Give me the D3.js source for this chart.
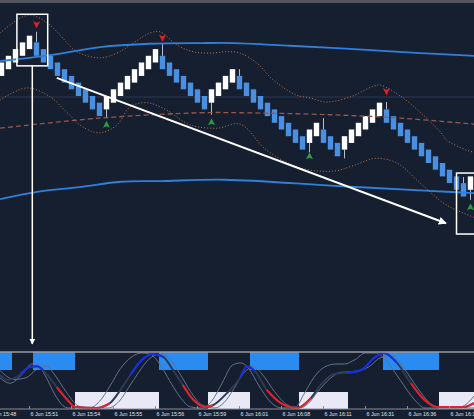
<!DOCTYPE html>
<html>
<head>
<meta charset="utf-8">
<script src="https://cdn.jsdelivr.net/npm/d3@7/dist/d3.min.js"></script>
<style>
  body { margin: 0; background: #161f30; }
  svg { display: block; }
</style>
</head>
<body>
<div id="chart"></div>
<script>
// renko bricks: bottom level of each brick (each brick spans 2 levels)
var brickLow = [23, 24, 25, 26, 27,
                26, 25, 24, 23, 22, 21, 20, 19, 18, 17,
                18, 19, 20, 21, 22, 23, 24, 25,
                24, 23, 22, 21, 20, 19, 18,
                19, 20, 21, 22,
                21, 20, 19, 18, 17, 16, 15, 14, 13, 12,
                13, 14,
                13, 12, 11,
                12, 13, 14, 15, 16, 17,
                16, 15, 14, 13, 12, 11, 10, 9, 8, 7, 6, 5,
                6];

// wicks: brick index and level the wick reaches
var wickBrick = [5, 15, 23, 30, 34, 44, 46, 49, 55, 66, 67];
var wickLevel = [29.6, 16.7, 27.9, 17.2, 24.0, 11.6, 16.7, 10.7, 19.1, 7.9, 4.5];

// signal arrows
var sellBrick = [5, 23, 55];
var sellLevel = [30.7, 28.7, 20.7];
var buyBrick = [15, 30, 44, 67];
var buyLevel = [15.7, 16.1, 11.0, 3.4];

// overlay lines [brick index, level]
var upperBlue = [[-0.2, 25.2], [6.9, 26.1], [14.1, 27.3], [21.2, 27.8], [28.4, 27.9], [33.2, 27.9],
                 [41.2, 27.5], [50.4, 27.0], [59.8, 26.4], [67.5, 26.0]];
var lowerBlue = [[-0.2, 4.6], [5.1, 5.7], [11.2, 6.4], [17.0, 7.2], [22.6, 7.3], [31.9, 7.5],
                 [47.5, 6.6], [61.8, 5.8], [67.5, 5.5]];
var midDashed = [[-0.2, 15.2], [14.1, 16.7], [28.4, 17.5], [34.1, 17.5], [47.0, 17.2], [57.0, 16.7], [67.5, 15.8]];
var upperBand = [[-0.2, 29.4], [1.2, 30.6], [2.6, 31.6], [4.1, 32.1], [5.5, 31.6], [6.9, 30.6], [8.1, 29.4],
                 [9.4, 27.9], [10.5, 26.8], [11.6, 26.2], [14.1, 25.7], [16.5, 26.4], [18.8, 27.9], [21.2, 29.4],
                 [22.6, 29.6], [25.1, 27.6], [27.4, 26.6], [29.8, 26.4], [32.2, 26.6], [34.1, 26.4], [36.5, 24.9],
                 [38.4, 22.8], [40.2, 21.3], [42.2, 20.1], [44.1, 19.7], [46.5, 19.1], [49.9, 19.9], [53.2, 21.5],
                 [54.2, 21.6], [57.1, 19.9], [59.9, 17.5], [62.8, 14.5], [63.6, 13.4], [66.5, 11.9], [67.5, 11.6]];
var lowerBand = [[-0.2, 19.4], [3.6, 21.2], [6.9, 19.9], [9.4, 17.5], [11.6, 15.4], [14.1, 14.5], [16.5, 15.7],
                 [18.4, 18.4], [20.8, 19.0], [23.6, 17.9], [26.9, 15.7], [30.8, 15.2], [34.1, 15.8], [37.9, 11.9],
                 [42.6, 9.3], [47.5, 8.8], [50.5, 9.7], [53.4, 10.7], [56.5, 10.0], [59.9, 6.9], [63.6, 3.7], [67.5, 1.9]];
var levelLine = 19.85;

// annotations
var box1 = [[2.2, 32.2], [6.6, 24.5]];
var box2 = [[65.0, 8.5], [68.2, -0.6]];
var trendArrow = [[7.9, 22.7], [63.5, 1.0]];

// oscillator panel
var oscMain = [[-0.2, 0.60], [0.9, 0.51], [2.6, 0.60], [4.1, 0.75], [5.1, 0.76], [5.9, 0.69], [7.9, 0.38],
               [9.4, 0.15], [10.5, 0.02], [13.6, 0.0], [15.5, 0.09], [17.0, 0.33], [18.4, 0.60], [19.8, 0.84],
               [21.6, 0.98], [23.1, 0.93], [24.5, 0.69], [25.9, 0.42], [27.4, 0.15], [29.1, 0.02], [30.2, 0.05],
               [32.2, 0.27], [34.1, 0.55], [35.1, 0.76], [36.2, 0.67], [37.9, 0.33], [39.9, 0.09], [42.2, 0.0],
               [44.2, 0.18], [45.6, 0.42], [47.5, 0.62], [49.4, 0.64], [51.4, 0.69], [53.2, 0.91], [54.6, 1.0],
               [56.5, 0.82], [58.5, 0.45], [60.4, 0.15], [62.2, 0.02], [66.1, 0.02], [67.5, 0.09]];
var oscFast = [[-0.2, 0.55], [1.2, 0.45], [3.0, 0.62], [4.3, 0.80], [5.0, 0.80], [6.2, 0.60], [7.6, 0.25],
               [8.8, 0.04], [9.6, 0.0], [12.5, 0.0], [14.0, 0.12], [15.5, 0.40], [17.0, 0.72], [18.5, 0.92],
               [20.0, 1.0], [21.2, 0.98], [22.6, 0.80], [24.0, 0.50], [25.5, 0.20], [27.0, 0.02], [28.5, 0.0],
               [30.0, 0.12], [31.5, 0.45], [33.0, 0.78], [34.2, 0.82], [35.3, 0.72], [36.8, 0.40], [38.5, 0.10],
               [40.0, 0.0], [42.0, 0.02], [43.2, 0.25], [44.6, 0.55], [46.2, 0.75], [47.8, 0.80], [49.0, 0.80],
               [50.5, 0.88], [52.0, 1.0], [53.5, 1.0], [55.0, 0.85], [57.0, 0.50], [59.0, 0.15], [60.5, 0.0],
               [65.0, 0.0], [66.5, 0.08], [67.5, 0.22]];
var oscSlow = [[-0.2, 0.68], [1.8, 0.52], [3.5, 0.55], [5.0, 0.70], [6.5, 0.76], [7.5, 0.62], [9.2, 0.30],
               [10.8, 0.05], [12.0, 0.0], [15.2, 0.0], [16.8, 0.12], [18.2, 0.38], [19.6, 0.65], [21.0, 0.88],
               [22.6, 0.98], [24.0, 0.90], [25.5, 0.62], [27.0, 0.30], [28.6, 0.06], [30.5, 0.0], [31.8, 0.10],
               [33.2, 0.35], [34.5, 0.62], [36.0, 0.75], [37.2, 0.62], [39.0, 0.30], [40.8, 0.06], [42.5, 0.0],
               [43.8, 0.08], [45.2, 0.30], [46.8, 0.52], [48.5, 0.65], [50.5, 0.66], [52.5, 0.75], [54.2, 0.92],
               [55.8, 0.95], [57.5, 0.72], [59.5, 0.35], [61.3, 0.08], [63.0, 0.0], [67.5, 0.0]];
var upZones = [[-1, 1.5], [4.5, 10.5], [22.5, 29.5], [35.5, 42.5], [54.5, 62.5]];
var downZones = [[10.5, 22.5], [29.5, 35.5], [42.5, 49.5], [62.5, 68.5]];

// time axis
var timeTicks = [-2, 4, 10, 16, 22, 28, 34, 40, 46, 52, 58, 64];
var timeLabels = ["6 Jun 15:48", "6 Jun 15:51", "6 Jun 15:54", "6 Jun 15:55", "6 Jun 15:56", "6 Jun 15:59",
                  "6 Jun 16:01", "6 Jun 16:08", "6 Jun 16:11", "6 Jun 16:31", "6 Jun 16:36", "6 Jun 16:39"];

(function(){
    var width = 474;
    var height = 419;
    var mainTop = 3;
    var panelTop = 352;
    var panelBottom = 409;

    var svg = d3.select("#chart").append("svg")
        .attr("width", width)
        .attr("height", height);

    svg.append("rect").attr("width", width).attr("height", height).attr("fill", "#161f30");
    svg.append("rect").attr("width", width).attr("height", mainTop).attr("fill", "#50555f");

    //Scales
    var x = d3.scaleLinear().domain([0, 67]).range([1.5, 470.5]);
    var y = d3.scaleLinear().domain([0, 30]).range([230, 29]);
    var yOsc = d3.scaleLinear().domain([0, 1]).range([panelBottom - 1, panelTop + 1]);

    var defs = svg.append("defs");
    defs.append("clipPath").attr("id", "mainClip")
        .append("rect").attr("x", 0).attr("y", mainTop).attr("width", width).attr("height", panelTop - mainTop - 1);
    defs.append("clipPath").attr("id", "panelClip")
        .append("rect").attr("x", 0).attr("y", panelTop).attr("width", width).attr("height", panelBottom - panelTop);
    defs.append("marker").attr("id", "head")
        .attr("viewBox", "0 0 10 10").attr("refX", 9).attr("refY", 5)
        .attr("markerWidth", 4).attr("markerHeight", 4).attr("orient", "auto")
        .append("path").attr("d", "M0,0 L10,5 L0,10 z").attr("fill", "#ffffff");

    var main = svg.append("g").attr("clip-path", "url(#mainClip)");

    var line = d3.line()
        .x(function(d) { return x(d[0]); })
        .y(function(d) { return y(d[1]); })
        .curve(d3.curveCatmullRom);

    // faint price level
    main.append("line")
        .attr("x1", 0).attr("x2", width)
        .attr("y1", y(levelLine)).attr("y2", y(levelLine))
        .style("stroke", "#2a3956").style("stroke-width", 1);

    //Bricks
    main.append("g").selectAll("line")
        .data(wickBrick).enter().append("line")
        .attr("x1", function(d) { return x(d); })
        .attr("x2", function(d) { return x(d); })
        .attr("y1", function(d, i) { return y(wickLevel[i] > brickLow[d] ? brickLow[d] + 2 : brickLow[d]); })
        .attr("y2", function(d, i) { return y(wickLevel[i]); })
        .style("stroke", "#b4bfd2").style("stroke-width", 1);

    main.append("g").selectAll("rect")
        .data(brickLow).enter().append("rect")
        .attr("x", function(d, i) { return x(i) - 2.7; })
        .attr("y", function(d) { return y(d + 2); })
        .attr("width", 5.4)
        .attr("height", function(d) { return y(d) - y(d + 2); })
        .attr("fill", function(d, i) {
            var up = i == 0 || d > brickLow[i - 1];
            return up ? "#ffffff" : "#4a8fe0";
        });

    //Bands
    main.append("path").datum(upperBand).attr("d", line)
        .style("fill", "none").style("stroke", "#b8784f").style("stroke-width", 1).style("stroke-dasharray", "1,2");
    main.append("path").datum(lowerBand).attr("d", line)
        .style("fill", "none").style("stroke", "#b8784f").style("stroke-width", 1).style("stroke-dasharray", "1,2");
    main.append("path").datum(midDashed).attr("d", line)
        .style("fill", "none").style("stroke", "#93594c").style("stroke-width", 1.3).style("stroke-dasharray", "5,3");
    main.append("path").datum(upperBlue).attr("d", line)
        .style("fill", "none").style("stroke", "#2f80dc").style("stroke-width", 1.8);
    main.append("path").datum(lowerBlue).attr("d", line)
        .style("fill", "none").style("stroke", "#2f80dc").style("stroke-width", 1.8);

    //Arrows
    main.append("g").selectAll("path")
        .data(sellBrick).enter().append("path")
        .attr("transform", function(d, i) { return "translate(" + x(d) + "," + y(sellLevel[i]) + ")"; })
        .attr("d", "M0,4 L3.5,-3 L0,-1.5 L-3.5,-3 Z")
        .attr("fill", "#e0202c");
    main.append("g").selectAll("path")
        .data(buyBrick).enter().append("path")
        .attr("transform", function(d, i) { return "translate(" + x(d) + "," + y(buyLevel[i]) + ")"; })
        .attr("d", "M0,-4 L3.5,3 L0,1.5 L-3.5,3 Z")
        .attr("fill", "#2aa043");

    //Annotations
    [box1, box2].forEach(function(b) {
        svg.append("rect")
            .attr("x", x(b[0][0])).attr("y", y(b[0][1]))
            .attr("width", x(b[1][0]) - x(b[0][0]))
            .attr("height", y(b[1][1]) - y(b[0][1]))
            .style("fill", "none").style("stroke", "#ffffff").style("stroke-width", 1.5);
    });
    var bx = (x(box1[0][0]) + x(box1[1][0])) / 2;
    svg.append("line")
        .attr("x1", bx).attr("x2", bx)
        .attr("y1", y(box1[1][1])).attr("y2", panelTop - 8)
        .style("stroke", "#ffffff").style("stroke-width", 1.5)
        .attr("marker-end", "url(#head)");
    svg.append("line")
        .attr("x1", x(trendArrow[0][0])).attr("y1", y(trendArrow[0][1]))
        .attr("x2", x(trendArrow[1][0])).attr("y2", y(trendArrow[1][1]))
        .style("stroke", "#ffffff").style("stroke-width", 2)
        .attr("marker-end", "url(#head)");

    //Oscillator panel
    var panel = svg.append("g").attr("clip-path", "url(#panelClip)");
    panel.append("g").selectAll("rect")
        .data(upZones).enter().append("rect")
        .attr("x", function(d) { return x(d[0]); })
        .attr("y", panelTop)
        .attr("width", function(d) { return x(d[1]) - x(d[0]); })
        .attr("height", 18)
        .attr("fill", "#2a8cf0");
    panel.append("g").selectAll("rect")
        .data(downZones).enter().append("rect")
        .attr("x", function(d) { return x(d[0]); })
        .attr("y", panelBottom - 17)
        .attr("width", function(d) { return x(d[1]) - x(d[0]); })
        .attr("height", 17)
        .attr("fill", "#e8e8f7");

    var oscLine = d3.line()
        .x(function(d) { return x(d[0]); })
        .y(function(d) { return yOsc(d[1]); })
        .curve(d3.curveMonotoneX);

    panel.append("path").datum(oscFast).attr("d", oscLine)
        .style("fill", "none").style("stroke", "#64728c").style("stroke-width", 1);
    panel.append("path").datum(oscSlow).attr("d", oscLine)
        .style("fill", "none").style("stroke", "#64728c").style("stroke-width", 1);
    panel.append("path").datum(oscMain).attr("d", oscLine)
        .style("fill", "none").style("stroke", "#2e3a52").style("stroke-width", 2);

    // colour the main line: blue near the top, red on the way down / at the bottom
    function segColor(a, b) {
        var avg = (a[1] + b[1]) / 2;
        if (avg >= 0.65 && a[1] - b[1] <= 0.2) return "#1530e8";
        if ((avg < 0.45 && b[1] < a[1]) || avg < 0.12) return "#e8202c";
        return null;
    }
    var runs = [];
    var cur = null;
    for (var k = 0; k < oscMain.length - 1; k++) {
        var c = segColor(oscMain[k], oscMain[k + 1]);
        if (c && cur && cur.color == c) {
            cur.pts.push(oscMain[k + 1]);
        } else if (c) {
            cur = {color: c, pts: [oscMain[k], oscMain[k + 1]]};
            runs.push(cur);
        } else {
            cur = null;
        }
    }
    panel.append("g").selectAll("path")
        .data(runs).enter().append("path")
        .attr("d", function(d) { return oscLine(d.pts); })
        .style("fill", "none")
        .style("stroke", function(d) { return d.color; })
        .style("stroke-width", 2);

    svg.append("line")
        .attr("x1", 0).attr("x2", width).attr("y1", panelTop).attr("y2", panelTop)
        .style("stroke", "#9a9ca4").style("stroke-width", 1.5);

    //Time axis
    var axis = d3.axisBottom(x)
        .tickValues(timeTicks)
        .tickSize(-3)
        .tickFormat(function(d, i) { return timeLabels[i]; });
    var gAxis = svg.append("g")
        .attr("transform", "translate(-0.5," + panelBottom + ")")
        .call(axis);
    gAxis.select(".domain").attr("d", "M0.5,0H" + (width + 1)).style("stroke", "#8a8f99");
    gAxis.selectAll(".tick line").style("stroke", "#8a8f99");
    gAxis.selectAll(".tick text")
        .attr("y", 3)
        .attr("x", 1)
        .attr("text-anchor", "start")
        .attr("font-family", "Liberation Sans, Arial, sans-serif")
        .attr("font-size", "5.3px")
        .attr("fill", "#e2e4ea");
})();
</script>
</body>
</html>
